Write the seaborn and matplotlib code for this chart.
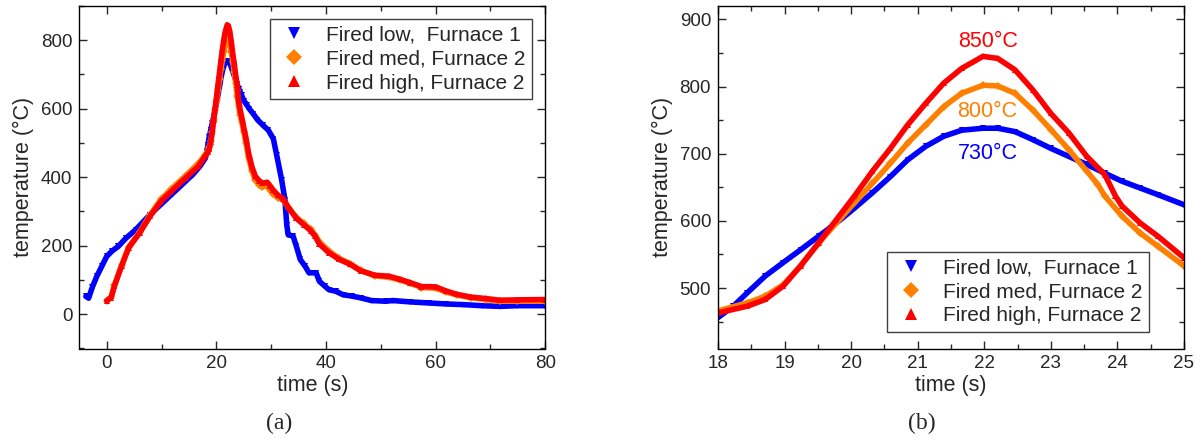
import matplotlib
matplotlib.use("Agg")
import matplotlib.pyplot as plt
from matplotlib.lines import Line2D
from matplotlib.ticker import MultipleLocator
import seaborn as sns
import pandas as pd

# ---------------- data ----------------
low_time = [-3.8, -3.3, -2.6, -1.8, -0.9, 0.0, 1.0, 2.1, 3.5, 5.3, 7.9, 10.5, 13.1, 15.7, 17.0,
            18.0, 18.23, 18.44, 18.71, 18.98, 19.24, 19.51, 19.78, 20.05, 20.32, 20.59, 20.85,
            21.12, 21.39, 21.66, 21.98, 22.2, 22.46, 22.73, 23.0, 23.27, 23.54, 23.81, 24.07,
            24.34, 24.61, 25.0,
            25.6, 26.0, 26.75, 27.5, 28.5, 29.5, 30.4, 31.0, 31.9, 32.5, 32.85, 33.1, 34.0, 34.6,
            35.3, 36.2, 36.9, 38.2, 38.8, 39.8, 40.5, 41.8, 43.1, 44.7, 46.3, 48.3, 50.9, 52.2,
            55.4, 58.7, 61.9, 65.2, 68.4, 71.7, 74.9, 80.0]
low_temp = [52, 47, 80, 111, 140, 169, 185, 198, 222, 247, 291, 330, 369, 408, 432,
            456, 473, 493, 518, 538, 557, 577, 597, 619, 642, 666, 691,
            711, 726, 735, 738, 738, 733, 721, 708, 696, 684, 671, 659,
            649, 639, 624,
            610, 600, 585, 568, 552, 537, 512, 465, 393, 335, 260, 232, 228, 198,
            160, 140, 121, 121, 96, 82, 72, 67, 57, 53, 48, 40, 38, 40,
            36, 33, 30, 28, 25, 23, 25, 25]

med_time = [0.0, 0.8, 1.4, 2.7, 4.0, 6.0, 7.9, 9.9, 11.8, 14.4, 16.7,
            18.0, 18.44, 18.71, 18.98, 19.24, 19.51, 19.78, 20.05, 20.32, 20.59, 20.85, 21.12,
            21.39, 21.66, 21.98, 22.2, 22.46, 22.73, 23.0, 23.27, 23.54, 23.7, 23.81, 24.07,
            24.34, 24.61, 25.0,
            25.4, 25.9, 26.5, 27.1, 27.8, 28.4, 29.3, 29.8, 30.4, 31.3, 32.2, 33.2, 34.6, 35.9,
            37.2, 38.0, 38.8, 40.5, 42.4, 44.4, 46.3, 48.9, 51.5, 53.5, 55.4, 57.4, 60.0, 61.9,
            63.9, 66.5, 69.1, 71.7, 74.9, 80.0]
med_temp = [40, 50, 85, 143, 196, 240, 290, 336, 366, 405, 440,
            466, 478, 488, 505, 533, 567, 597, 627, 656, 686, 716, 743,
            770, 790, 802, 801, 790, 765, 736, 706, 674, 655, 637, 607,
            582, 562, 533,
            500, 455, 418, 393, 378, 372, 375, 362, 350, 340, 333, 310, 283, 265,
            248, 232, 212, 185, 163, 148, 128, 112, 108, 100, 90, 78, 76, 65,
            56, 48, 43, 38, 38, 38]

high_time = [0.0, 0.8, 1.4, 2.7, 4.0, 6.0, 7.9, 9.9, 11.8, 14.4, 16.7,
             18.0, 18.44, 18.71, 18.98, 19.24, 19.51, 19.78, 20.05, 20.32, 20.59, 20.85, 21.12,
             21.39, 21.66, 21.98, 22.2, 22.46, 22.73, 23.0, 23.27, 23.54, 23.81, 23.97, 24.07,
             24.34, 24.61, 25.0,
             25.4, 25.9, 26.5, 27.1, 27.8, 28.4, 29.3, 29.8, 30.4, 31.3, 32.2, 33.2, 34.6, 35.9,
             37.2, 38.0, 38.8, 40.5, 42.4, 44.4, 46.3, 48.9, 51.5, 53.5, 55.4, 57.4, 60.0, 61.9,
             63.9, 66.5, 69.1, 71.7, 74.9, 80.0]
high_temp = [40, 48, 82, 140, 194, 237, 286, 330, 359, 398, 432,
             463, 473, 483, 503, 533, 567, 602, 637, 674, 708, 743, 775,
             805, 827, 845, 842, 825, 795, 760, 731, 696, 669, 637, 622,
             597, 577, 545,
             515, 468, 430, 403, 390, 383, 385, 375, 362, 347, 337, 310, 280, 262,
             244, 228, 205, 180, 160, 146, 127, 114, 111, 102, 92, 81, 80, 68,
             58, 50, 46, 41, 42, 43]

series_labels = ["Fired low,  Furnace 1", "Fired med, Furnace 2", "Fired high, Furnace 2"]
peak_labels = ["730°C", "800°C", "850°C"]
peak_label_time = [22.05, 22.05, 22.05]
peak_label_temp = [701, 763, 867]
captions = ["(a)", "(b)"]

# ---------------- styling ----------------
sns.set_style("ticks")
plt.rcParams["font.family"] = ["Liberation Sans", "DejaVu Sans"]
plt.rcParams["axes.linewidth"] = 1.0

colors = ["#0000FF", "#FF8000", "#FF0000"]
markers = ["v", "D", "^"]
series = [(low_time, low_temp), (med_time, med_temp), (high_time, high_temp)]

fig = plt.figure(figsize=(12, 4.4), dpi=100)
axA = fig.add_axes([79.3 / 1200, 1 - 348.5 / 440, 466 / 1200, 342.5 / 440])
axB = fig.add_axes([718 / 1200, 1 - 348.5 / 440, 466 / 1200, 342.5 / 440])

for ax in (axA, axB):
    for (t, T), c, m in zip(series, colors, markers):
        df = pd.DataFrame({"time": t, "temp": T})
        sns.lineplot(data=df, x="time", y="temp", ax=ax, color=c, lw=4.0,
                     marker=m, markersize=4.5, markeredgewidth=0,
                     sort=False, estimator=None, legend=False)
    ax.set_xlabel("time (s)", fontsize=15.5, labelpad=2)
    ax.set_ylabel("temperature (°C)", fontsize=15.5, labelpad=5)
    ax.tick_params(which="both", direction="in", top=True, right=True,
                   labelsize=13.5, pad=5, width=1.0)
    ax.tick_params(which="major", length=6)
    ax.tick_params(which="minor", length=3.5)
    for s in ax.spines.values():
        s.set_visible(True)
        s.set_color("black")

axA.set_xlim(-5, 80)
axA.set_ylim(-100, 900)
axA.xaxis.set_major_locator(MultipleLocator(20))
axA.xaxis.set_minor_locator(MultipleLocator(10))
axA.yaxis.set_major_locator(MultipleLocator(200))
axA.yaxis.set_minor_locator(MultipleLocator(100))

axB.set_xlim(18, 25)
axB.set_ylim(410, 920)
axB.xaxis.set_major_locator(MultipleLocator(1))
axB.xaxis.set_minor_locator(MultipleLocator(0.5))
axB.yaxis.set_major_locator(MultipleLocator(100))
axB.yaxis.set_minor_locator(MultipleLocator(50))

for lab, tx, ty, c in zip(peak_labels, peak_label_time, peak_label_temp, colors):
    axB.text(tx, ty, lab, color=c, fontsize=15.5, ha="center", va="center")

handles = [Line2D([], [], ls="none", marker=m, color=c, markersize=8, markeredgewidth=0)
           for m, c in zip(markers, colors)]
leg_kw = dict(fontsize=15, frameon=True, fancybox=False, edgecolor="#404040",
              framealpha=1, borderpad=0.3, labelspacing=0.25, handlelength=1.7,
              handletextpad=0.7, borderaxespad=0)
legA = axA.legend(handles, series_labels, loc="upper right",
                  bbox_to_anchor=(0.971, 0.962), **leg_kw)
legB = axB.legend(handles, series_labels, loc="lower right",
                  bbox_to_anchor=(0.925, 0.049), **leg_kw)
for lg in (legA, legB):
    lg.get_frame().set_linewidth(1.0)

fig.text(279 / 1200, 1 - 423 / 440, captions[0], ha="center", va="center",
         fontsize=17, family=["Liberation Serif", "DejaVu Serif"])
fig.text(922 / 1200, 1 - 423 / 440, captions[1], ha="center", va="center",
         fontsize=17, family=["Liberation Serif", "DejaVu Serif"])

fig.savefig("out.png", dpi=100)
